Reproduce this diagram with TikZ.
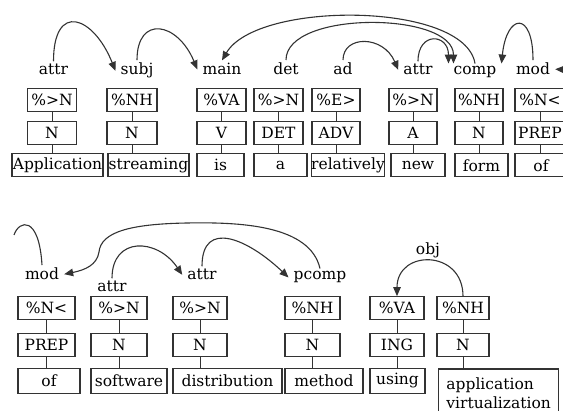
\documentclass[tikz,border=0pt]{standalone}
\usepackage{fontspec}
\setmainfont{DejaVu Serif}
\usetikzlibrary{arrows.meta}

\tikzset{
  wbox/.style={draw=black!80, line width=1.3pt, minimum height=23, inner sep=0pt, font=\fontsize{15.5}{17}\selectfont},
  lbl/.style={anchor=base, inner xsep=5pt, inner ysep=3pt, font=\fontsize{15.5}{17}\selectfont},
  link/.style={line width=1pt, draw=black!80},
  dep/.style={-{Triangle[length=9pt,width=7.5pt]}, line width=1.1pt, draw=black!80},
}

\begin{document}
\begin{tikzpicture}[x=1pt,y=-1pt]
    \useasboundingbox (0,0) rectangle (563,411);
    \foreach \n/\x/\w/\tg/\ps/\wx/\ww/\wrd in {
        a/52/49/{\%>N}/N/57.5/91/Application,
        b/132/50/{\%NH}/N/148.5/81/streaming,
        c/221.5/49/{\%VA}/V/220.5/47/is,
        d/278.5/49/{\%>N}/DET/280.5/53/a,
        e/336/48/{\%E>}/ADV/348/70/relatively,
        f/413/48/{\%>N}/A/418/54/new,
        g/479/48/{\%NH}/N/481.5/53/form,
        h/540/50/{\%N<}/PREP/541/52/of}{
        \node[wbox, minimum width=\w] (tag\n) at (\x,99.7) {\tg};
        \node[wbox, minimum width=\w] (pos\n) at (\x,132.8) {\ps};
        \node[wbox, minimum width=\ww] (word\n) at (\wx,165.3) {\wrd};
        \draw[link] (tag\n.south) -- (pos\n.north);
        \draw[link] (pos\n.south) -- (pos\n.south |- word\n.north);
    }
    \foreach \n/\x/\w/\tg/\ps/\wx/\ww/\wrd in {
        i/46.5/57/{\%N<}/PREP/49/62/of,
        j/119/56/{\%>N}/N/129/76/software,
        k/200/54/{\%>N}/N/227.5/109/distribution,
        l/312.5/55/{\%NH}/N/324/78/method,
        m/397/54/{\%VA}/ING/397.5/55/using}{
        \node[wbox, minimum width=\w] (tag\n) at (\x,308.3) {\tg};
        \node[wbox, minimum width=\w] (pos\n) at (\x,345) {\ps};
        \node[wbox, minimum width=\ww, minimum height=25] (word\n) at (\wx,380.8) {\wrd};
        \draw[link] (tag\n.south) -- (pos\n.north);
        \draw[link] (pos\n.south) -- (pos\n.south |- word\n.north);
    }
    \node[wbox, minimum width=52] (tagn) at (463,308.3) {\%NH};
    \node[wbox, minimum width=52] (posn) at (463,345) {N};
    \node[wbox, minimum width=120, minimum height=48, anchor=north west, align=left, inner xsep=2pt,
        inner ysep=1pt, font=\fontsize{15.5}{19}\selectfont] (wordn) at (438,368.3) {application\\virtualization};
    \draw[link] (tagn.south) -- (posn.north);
    \draw[link] (posn.south) -- (posn.south |- wordn.north);

    \node[lbl] (la) at (53.5,75) {attr};
    \node[lbl] (lb) at (137,75) {subj};
    \node[lbl] (lc) at (222,75) {main};
    \node[lbl] (ld) at (286,75) {det};
    \node[lbl] (le) at (343,75) {ad};
    \node[lbl] (lf) at (418,75) {attr};
    \node[lbl] (lg) at (475,75) {comp};
    \node[lbl] (lh) at (533,75) {mod};
    \coordinate (offr) at (575,70);

    \draw[dep] (la.north) .. controls +(0,-60) and +(-22,-55) .. (lb.west);
    \draw[dep] (lb.north) .. controls +(0,-45) and +(-20,-48) .. (lc.west);
    \draw[dep] (le.north) .. controls +(0,-25) and +(-15,-35) .. (lf.west);
    \draw[dep] (lf.north) .. controls +(0,-30) and +(0,-30) .. (lg.north west);
    \draw[dep] (ld.north) .. controls +(0,-50) and +(0,-52) .. ([xshift=5]lg.north west);
    \draw[dep] (lg.north) .. controls +(-10,-62) and +(35,-60) .. (lc.north);
    \draw[dep] (lh.north) .. controls +(0,-50) and +(5,-50) .. (lg.north east);
    \draw[dep] (offr) -- (lh.east);

    \node[lbl] (ma) at (42,280) {mod};
    \node[lbl] (mb) at (112,292) {attr};
    \node[lbl] (mc) at (202,280) {attr};
    \node[lbl] (md) at (320,280) {pcomp};
    \node[lbl] (me) at (428,255) {obj};
    \coordinate (offl) at (14,235);

    \draw[link, line width=1.1pt] (ma.north) .. controls +(-3,-50) and +(5,-15) .. (offl);
    \draw[dep] (mb.north) .. controls +(0,-42) and +(-25,-37) .. (mc.west);
    \draw[dep] (mc.north) .. controls +(0,-48) and +(-40,-38) .. (md.west);
    \draw[dep] (md.north) .. controls (310,225) and (240,222) .. (187,223)
        .. controls (130,224) and (101,232) .. (99,252)
        .. controls (97,265) and (85,270) .. (ma.east);
    \draw[dep] (tagn.north) .. controls +(0,-47) and +(0,-47) .. (tagm.north);
\end{tikzpicture}
\end{document}
